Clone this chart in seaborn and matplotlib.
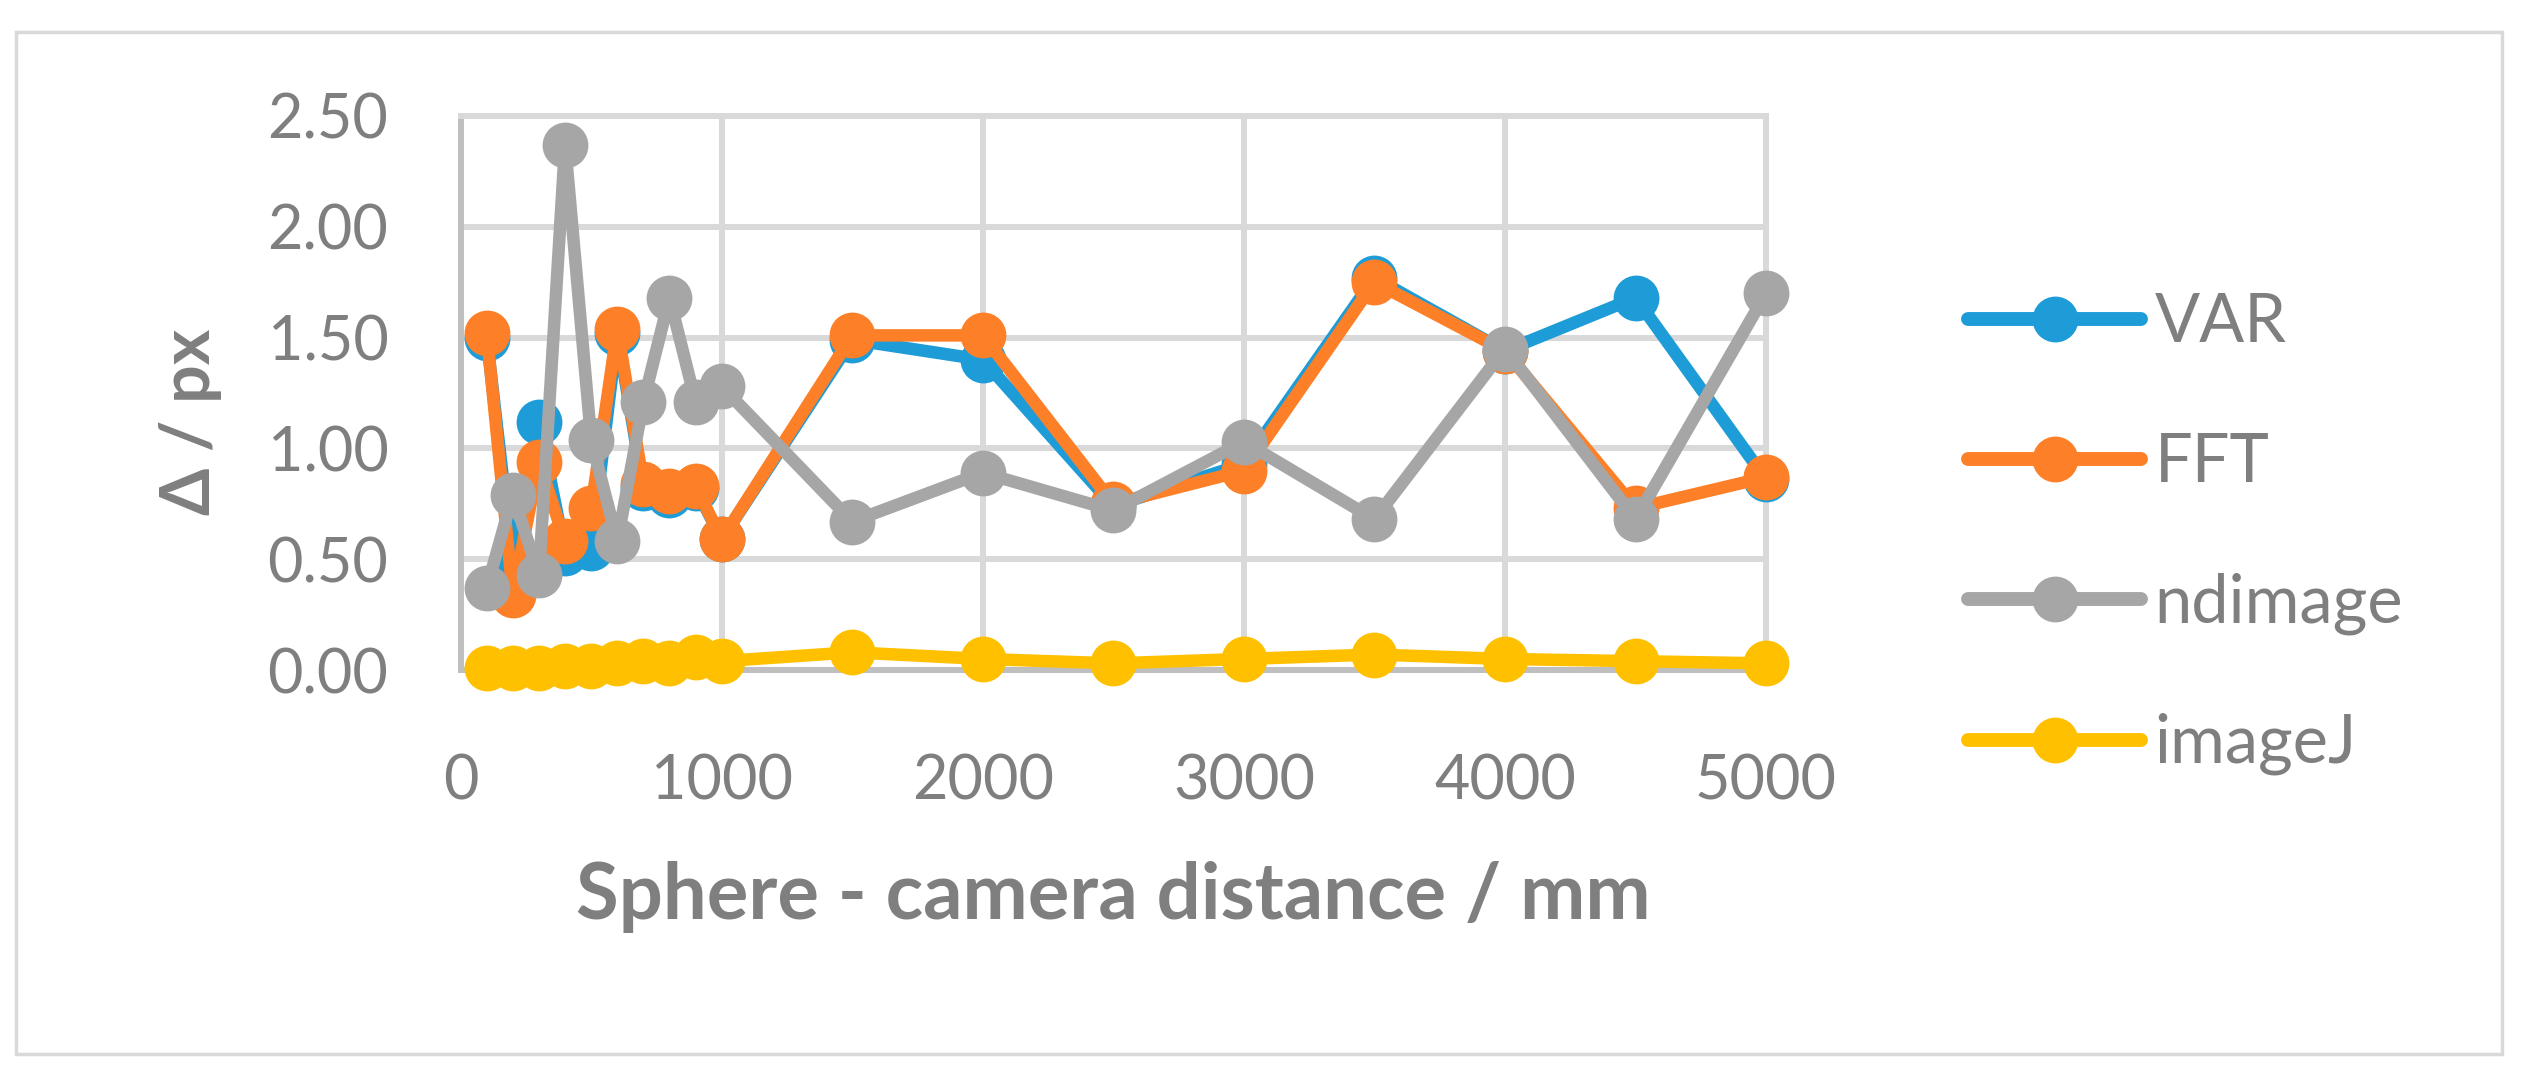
import seaborn as sns
import matplotlib.pyplot as plt
import pandas as pd
from matplotlib.lines import Line2D
from matplotlib.patches import Rectangle

# Values
distance = [100, 200, 300, 400, 500, 600, 700, 800, 900, 1000,
            1500, 2000, 2500, 3000, 3500, 4000, 4500, 5000]
var_vals     = [1.50, 0.48, 1.12, 0.53, 0.55, 1.52, 0.82, 0.79, 0.82, 0.59,
                1.49, 1.40, 0.74, 0.93, 1.77, 1.44, 1.68, 0.86]
fft_vals     = [1.52, 0.34, 0.94, 0.58, 0.73, 1.54, 0.84, 0.81, 0.83, 0.59,
                1.51, 1.51, 0.75, 0.90, 1.75, 1.44, 0.73, 0.87]
ndimage_vals = [0.37, 0.79, 0.43, 2.37, 1.04, 0.58, 1.21, 1.68, 1.21, 1.28,
                0.67, 0.89, 0.72, 1.03, 0.68, 1.45, 0.68, 1.70]
imagej_vals  = [0.01, 0.01, 0.01, 0.02, 0.02, 0.03, 0.04, 0.03, 0.06, 0.04,
                0.08, 0.05, 0.03, 0.05, 0.07, 0.05, 0.04, 0.03]

methods = ['VAR', 'FFT', 'ndimage', 'imageJ']
colors = ['#1E9CD7', '#FD7F27', '#A6A6A6', '#FFC000']

df = pd.concat([
    pd.DataFrame({'distance': distance, 'delta': v, 'method': m})
    for m, v in zip(methods, [var_vals, fft_vals, ndimage_vals, imagej_vals])
], ignore_index=True)

sns.set_style('white')
plt.rcParams['font.family'] = ['Lato', 'DejaVu Sans']
text_color = '#7F7F7F'
grid_color = '#D9D9D9'

fig = plt.figure(figsize=(25.24, 10.8), dpi=100)
ax = fig.add_axes([0.1825, 0.3796, 0.5172, 0.5130])

sns.lineplot(data=df, x='distance', y='delta', hue='method', hue_order=methods,
             palette=colors, marker='o', markersize=33, markeredgewidth=0,
             linewidth=9, sort=False, legend=False, ax=ax, clip_on=False,
             solid_joinstyle='round', solid_capstyle='round', zorder=3)

ax.set_xlim(0, 5000)
ax.set_ylim(0, 2.5)
ax.set_xticks([0, 1000, 2000, 3000, 4000, 5000])
ax.set_yticks([0, 0.5, 1.0, 1.5, 2.0, 2.5])
ax.set_yticklabels([f'{v:.2f}' for v in [0, 0.5, 1.0, 1.5, 2.0, 2.5]])
ax.grid(True, color=grid_color, linewidth=4.3, zorder=0)
ax.set_axisbelow(True)
ax.tick_params(length=0, labelsize=44, labelcolor=text_color)
ax.tick_params(axis='y', pad=52)
ax.tick_params(axis='x', pad=60)

for side in ['top', 'right']:
    ax.spines[side].set_color(grid_color)
    ax.spines[side].set_linewidth(4.3)
for side in ['left', 'bottom']:
    ax.spines[side].set_color('#BFBFBF')
    ax.spines[side].set_linewidth(4.3)

ax.set_xlabel('Sphere - camera distance / mm', fontsize=56, fontweight='bold',
              color=text_color)
ax.xaxis.set_label_coords(0.5, -0.41)
ax.xaxis.label.set_va('center')
ax.set_ylabel('Δ / px', fontsize=49, fontweight='bold', color=text_color)
ax.yaxis.set_label_coords(-0.207, 0.448)
ax.yaxis.label.set_va('center')

handles = [Line2D([], [], color=c, marker='o', markersize=33, markeredgewidth=0,
                  linewidth=10, solid_capstyle='round') for c in colors]
leg = fig.legend(handles, methods, loc='center left',
                 bbox_to_anchor=(0.7797, 0.5056), frameon=False, fontsize=48,
                 handlelength=2.6, handletextpad=0.2, labelspacing=1.17,
                 borderpad=0, borderaxespad=0)
for t in leg.get_texts():
    t.set_color(text_color)

fig.patches.append(Rectangle((0.0063, 0.024), 0.985, 0.946, transform=fig.transFigure,
                             fill=False, edgecolor=grid_color, linewidth=2.5))

fig.savefig('out.png', dpi=100, facecolor='white')
